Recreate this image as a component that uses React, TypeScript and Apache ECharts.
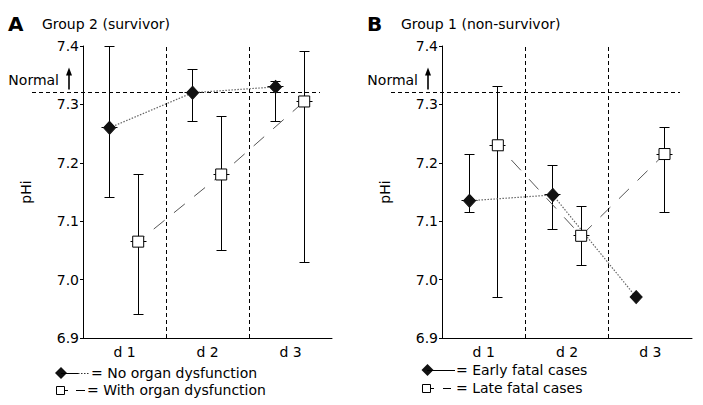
import React, { useEffect, useRef } from "react";
import * as echarts from "echarts";

const categories = ["d 1", "d 2", "d 3"];
const yMin = 6.9;
const yMax = 7.4;
const yStep = 0.1;
const normalValue = 7.32;

// Panel A: Group 2 (survivor)
const noOrganMean = [7.26, 7.32, 7.33];
const noOrganLow = [7.14, 7.27, 7.27];
const noOrganHigh = [7.4, 7.36, 7.34];
const withOrganMean = [7.065, 7.18, 7.305];
const withOrganLow = [6.94, 7.05, 7.03];
const withOrganHigh = [7.18, 7.28, 7.39];

// Panel B: Group 1 (non-survivor)
const earlyMean = [7.135, 7.145, 6.97];
const earlyLow: (number | null)[] = [7.115, 7.085, null];
const earlyHigh: (number | null)[] = [7.215, 7.195, null];
const lateMean = [7.23, 7.075, 7.215];
const lateLow = [6.97, 7.025, 7.115];
const lateHigh = [7.33, 7.125, 7.26];

const FONT = "DejaVu Sans";

const pos = (i: number, off: number) => i + 0.5 + off;
const snap = (v: number) => Math.round(v - 0.5) + 0.5;

function errData(mean: number[], low: (number | null)[], high: (number | null)[], off: number) {
  const out: number[][] = [];
  mean.forEach((m, i) => {
    const lo = low[i];
    const hi = high[i];
    if (lo != null && hi != null) out.push([pos(i, off), m, lo, hi]);
  });
  return out;
}

const errRender = (_params: any, api: any) => {
  const x = api.value(0);
  const pm = api.coord([x, api.value(1)]);
  const pl = api.coord([x, api.value(2)]);
  const ph = api.coord([x, api.value(3)]);
  const cx = snap(pm[0]);
  const yl = snap(pl[1]);
  const yh = snap(ph[1]);
  const ym = snap(pm[1]);
  const style = { stroke: "#000", lineWidth: 1 };
  return {
    type: "group",
    children: [
      { type: "line", shape: { x1: cx, y1: yl, x2: cx, y2: yh }, style },
      { type: "line", shape: { x1: cx - 5, y1: yl, x2: cx + 5, y2: yl }, style },
      { type: "line", shape: { x1: cx - 5, y1: yh, x2: cx + 5, y2: yh }, style },
      { type: "line", shape: { x1: cx - 8, y1: ym, x2: cx + 8, y2: ym }, style },
    ],
  };
};

function panelSeries(
  idx: number,
  dMean: number[], dLow: (number | null)[], dHigh: (number | null)[], dOff: number,
  sMean: number[], sLow: (number | null)[], sHigh: (number | null)[], sOff: number
) {
  return [
    {
      type: "custom",
      xAxisIndex: idx,
      yAxisIndex: idx,
      renderItem: errRender,
      encode: { x: 0, y: [1, 2, 3] },
      data: errData(dMean, dLow, dHigh, dOff),
      z: 2,
      silent: true,
    },
    {
      type: "custom",
      xAxisIndex: idx,
      yAxisIndex: idx,
      renderItem: errRender,
      encode: { x: 0, y: [1, 2, 3] },
      data: errData(sMean, sLow, sHigh, sOff),
      z: 2,
      silent: true,
      markLine: {
        silent: true,
        symbol: "none",
        label: { show: false },
        lineStyle: { color: "#000", type: [4, 3], width: 1 },
        data: [{ xAxis: 1 }, { xAxis: 2 }],
      },
    },
    {
      type: "line",
      xAxisIndex: idx,
      yAxisIndex: idx,
      data: dMean.map((v, i) => [pos(i, dOff), v]),
      symbol: "diamond",
      symbolSize: [12, 13],
      itemStyle: { color: "#111", borderColor: "#111" },
      lineStyle: { color: "#666", width: 1.2, type: [1.5, 1.5] },
      z: 3,
    },
    {
      type: "line",
      xAxisIndex: idx,
      yAxisIndex: idx,
      data: sMean.map((v, i) => [pos(i, sOff), v]),
      symbol: "rect",
      symbolSize: 11,
      itemStyle: { color: "#fff", borderColor: "#000", borderWidth: 1 },
      lineStyle: { color: "#555", width: 1, type: [14, 12], dashOffset: 6 },
      z: 4,
    },
  ];
}

function makeAxes(idx: number) {
  return {
    x: {
      type: "value",
      gridIndex: idx,
      min: 0,
      max: 3,
      interval: 0.5,
      axisLine: { show: true, onZero: false, lineStyle: { color: "#000", width: 1 } },
      axisTick: { show: false },
      splitLine: { show: false },
      axisLabel: {
        color: "#000",
        fontFamily: FONT,
        fontSize: 14,
        margin: 7,
        formatter: (v: number) => {
          const k = Math.round(v * 2);
          return k % 2 === 1 ? categories[(k - 1) / 2] : "";
        },
      },
    },
    y: {
      type: "value",
      gridIndex: idx,
      min: yMin,
      max: yMax,
      interval: yStep,
      name: "pHi",
      nameLocation: "middle",
      nameGap: 50,
      nameRotate: 90,
      nameTextStyle: { color: "#000", fontFamily: FONT, fontSize: 14 },
      axisLine: { show: true, lineStyle: { color: "#000", width: 1 } },
      axisTick: { show: true, length: 3, lineStyle: { color: "#000" } },
      splitLine: { show: false },
      axisLabel: {
        color: "#000",
        fontFamily: FONT,
        fontSize: 14,
        margin: 4,
        formatter: (v: number) => v.toFixed(1),
      },
    },
  };
}

export default function App() {
  const ref = useRef<HTMLDivElement>(null);
  useEffect(() => {
    if (!ref.current) return;
    const chart = echarts.init(ref.current, undefined, { renderer: "svg" });
    const a0 = makeAxes(0);
    const a1 = makeAxes(1);
    chart.setOption({
      animation: false,
      backgroundColor: "#fff",
      textStyle: { fontFamily: FONT },
      grid: [
        { left: 83, top: 46, width: 249, height: 292 },
        { left: 442, top: 46, width: 250, height: 292 },
      ],
      xAxis: [a0.x, a1.x],
      yAxis: [a0.y, a1.y],
      series: [
        ...panelSeries(0, noOrganMean, noOrganLow, noOrganHigh, -0.18, withOrganMean, withOrganLow, withOrganHigh, 0.165),
        ...panelSeries(1, earlyMean, earlyLow, earlyHigh, -0.17, lateMean, lateLow, lateHigh, 0.17),
      ],
    });

    const graphics: any[] = [];
    const textEl = (x: number, y: number, text: string, font: string, align = "left") => ({
      type: "text",
      x,
      y,
      silent: true,
      style: { text, font, fill: "#000", align, verticalAlign: "middle" },
    });
    const lineEl = (x1: number, y1: number, x2: number, y2: number, stroke = "#000", dash?: number[], w = 1) => ({
      type: "line",
      silent: true,
      shape: { x1, y1, x2, y2 },
      style: { stroke, lineWidth: w, lineDash: dash },
    });

    const titles = [
      { letter: "A", text: "Group 2 (survivor)" },
      { letter: "B", text: "Group 1 (non-survivor)" },
    ];
    [0, 1].forEach((idx) => {
      const xl = chart.convertToPixel({ xAxisIndex: idx }, 0) as number;
      const xr = chart.convertToPixel({ xAxisIndex: idx }, 3) as number;
      const yN = snap(chart.convertToPixel({ yAxisIndex: idx }, normalValue) as number);
      // Normal reference line
      graphics.push(lineEl(xl - 51, yN, xr - 12, yN, "#000", [4, 3]));
      graphics.push(textEl(xl - 24, yN - 13, "Normal", `14px "${FONT}"`, "right"));
      // arrow
      const ax = Math.round(xl - 14);
      graphics.push(lineEl(ax, yN - 3, ax, yN - 19, "#000", undefined, 1.6));
      graphics.push({
        type: "polygon",
        silent: true,
        shape: { points: [[ax - 3, yN - 17], [ax, yN - 25], [ax + 3, yN - 17]] },
        style: { fill: "#000" },
      });
      // titles
      graphics.push(textEl(xl - 75, 24, titles[idx].letter, `bold 20px "${FONT}"`));
      graphics.push(textEl(xl - 41, 24, titles[idx].text, `14px "${FONT}"`));
    });

    // Legend A
    graphics.push({
      type: "polygon",
      silent: true,
      shape: { points: [[55, 373], [61, 367], [67, 373], [61, 379]] },
      style: { fill: "#111" },
    });
    graphics.push(lineEl(61, 373.5, 78, 373.5));
    graphics.push(lineEl(78, 373.5, 90, 373.5, "#333", [1.5, 1.5]));
    graphics.push(textEl(91, 373, "= No organ dysfunction", `14px "${FONT}"`));
    graphics.push({
      type: "rect",
      silent: true,
      shape: { x: 56.5, y: 386.5, width: 8, height: 8 },
      style: { fill: "#fff", stroke: "#000", lineWidth: 1 },
    });
    graphics.push(lineEl(64.5, 390.5, 68, 390.5));
    graphics.push(lineEl(76, 390.5, 85, 390.5));
    graphics.push(textEl(87, 390, "= With organ dysfunction", `14px "${FONT}"`));

    // Legend B
    graphics.push({
      type: "polygon",
      silent: true,
      shape: { points: [[421.5, 370], [427.5, 364], [433.5, 370], [427.5, 376]] },
      style: { fill: "#111" },
    });
    graphics.push(lineEl(427, 370.5, 455, 370.5));
    graphics.push(textEl(456, 370, "= Early fatal cases", `14px "${FONT}"`));
    graphics.push({
      type: "rect",
      silent: true,
      shape: { x: 422.5, y: 384.5, width: 8, height: 8 },
      style: { fill: "#fff", stroke: "#000", lineWidth: 1 },
    });
    graphics.push(lineEl(430.5, 388.5, 434, 388.5));
    graphics.push(lineEl(443, 388.5, 451, 388.5));
    graphics.push(textEl(456, 388, "= Late fatal cases", `14px "${FONT}"`));

    chart.setOption({ graphic: { elements: graphics } });

    return () => chart.dispose();
  }, []);
  return (
    <div
      ref={ref}
      style={{ position: "fixed", left: 0, top: 0, width: 703, height: 405, background: "#fff" }}
    />
  );
}
